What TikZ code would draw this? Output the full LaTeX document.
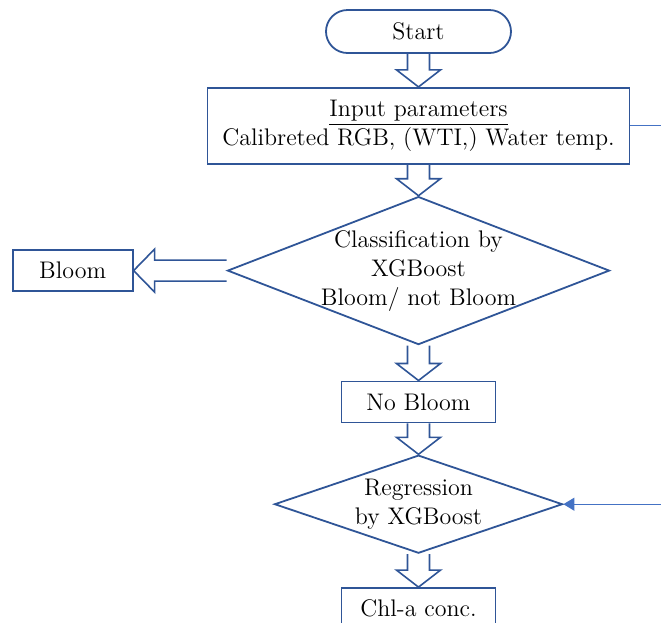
\documentclass[tikz,border=0pt]{standalone}
\usepackage{tikz}
\usetikzlibrary{arrows.meta,positioning,shapes.geometric,calc}
\definecolor{flowblue}{HTML}{2F5597}
\definecolor{linkblue}{HTML}{4472C4}
\newcommand{\flowfont}{\fontsize{12}{14.5}\selectfont}
\tikzset{
  startnode/.style={draw=flowblue,line width=0.9pt,rounded corners=10.75pt,minimum width=92.5pt,minimum height=21.5pt,font=\flowfont},
  boxnode/.style={draw=flowblue,line width=0.9pt,minimum height=20.5pt,align=center,font=\flowfont},
  decisionnode/.style={draw=flowblue,line width=0.9pt,diamond,inner sep=0pt},
  flowtext/.style={align=center,font=\flowfont},
  fatarrow/.style={draw=flowblue,line width=0.8pt,line join=miter},
  feedline/.style={linkblue,line width=0.6pt},
  feedarrow/.style={linkblue,line width=0.6pt,-{Triangle[length=5.5pt,width=6.5pt]}}
}
% hollow block arrow going down from #1 to #2
\newcommand{\downfat}[2]{%
  \draw[fatarrow] let \p1=(#1.south), \p2=(#2.north) in
    (\x1-5.5pt,\y1) -- (\x1-5.5pt,\y2+8.5pt) -- (\x1-11pt,\y2+8.5pt) -- (\x1,\y2)
    -- (\x1+11pt,\y2+8.5pt) -- (\x1+5.5pt,\y2+8.5pt) -- (\x1+5.5pt,\y1);}

\begin{document}
\begin{tikzpicture}[node distance=16.5pt]
  \useasboundingbox (0,0) rectangle (330.5pt,-311.5pt);
  \coordinate (edge) at (330.5pt,0);

  \node[startnode] (start) at (209.25pt,-15.75pt) {Start};
  \node[boxnode,minimum width=211pt,minimum height=38pt,below=of start] (input)
    {\underline{Input parameters}\\Calibreted RGB, (WTI,) Water temp.};
  \node[decisionnode,minimum width=191pt,minimum height=74pt,below=15.5pt of input,
    label={[flowtext]center:{Classification by\\XGBoost\\Bloom/ not Bloom}}] (classify) {};
  \node[boxnode,minimum width=60pt,left=46.5pt of classify] (bloom) {Bloom};
  \node[boxnode,minimum width=77pt,below=17.5pt of classify] (nobloom) {No Bloom};
  \node[decisionnode,minimum width=144pt,minimum height=49pt,below=15.5pt of nobloom,
    label={[flowtext]center:{Regression\\by XGBoost}}] (regress) {};
  \node[boxnode,minimum width=77pt,below=16.5pt of regress] (chla) {Chl-a conc.};

  \downfat{start}{input}
  \downfat{input}{classify}
  \downfat{classify}{nobloom}
  \downfat{nobloom}{regress}
  \downfat{regress}{chla}

  % hollow block arrow to the left
  \draw[fatarrow] let \p1=(classify.west), \p2=(bloom.east) in
    (\x1,\y1+5.25pt) -- (\x2+10.5pt,\y1+5.25pt) -- (\x2+10.5pt,\y1+10.75pt) -- (\x2,\y2)
    -- (\x2+10.5pt,\y1-10.75pt) -- (\x2+10.5pt,\y1-5.25pt) -- (\x1,\y1-5.25pt);

  \draw[feedline] (input.east) -- (input.east -| edge);
  \draw[feedarrow] (regress.east -| edge) -- (regress.east);
\end{tikzpicture}
\end{document}
